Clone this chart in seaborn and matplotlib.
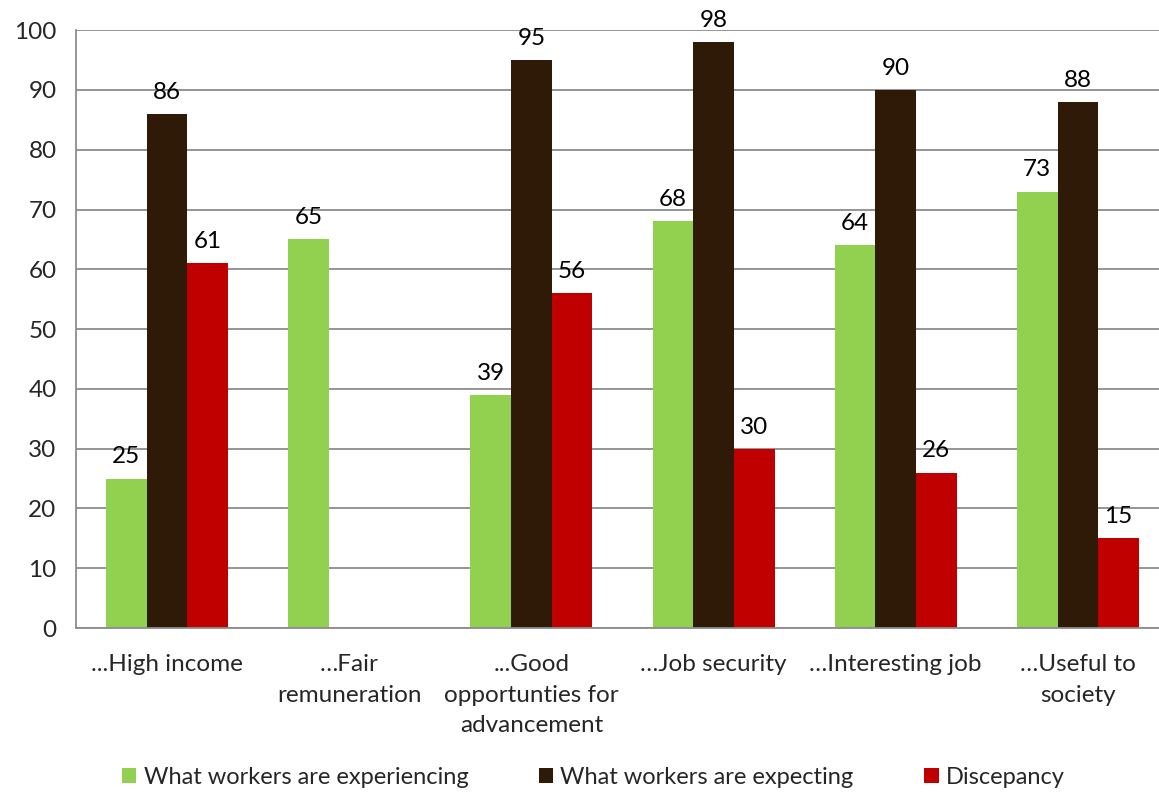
import numpy as np
import pandas as pd
import matplotlib
matplotlib.use("Agg")
import matplotlib.pyplot as plt
import seaborn as sns
from matplotlib.patches import Patch

categories = ["...High income", "\u2026Fair\nremuneration", "...Good\nopportunties for\nadvancement",
              "\u2026Job security", "\u2026Interesting job", "\u2026Useful to\nsociety"]
experiencing = [25, 65, 39, 68, 64, 73]
expecting = [86, np.nan, 95, 98, 90, 88]
discrepancy = [61, np.nan, 56, 30, 26, 15]
series_names = ["What workers are experiencing", "What workers are expecting", "Discepancy"]
colors = ["#92D050", "#2E1A07", "#C00000"]

rows = []
for name, vals in zip(series_names, [experiencing, expecting, discrepancy]):
    for cat, v in zip(categories, vals):
        rows.append({"category": cat, "series": name, "value": v})
df = pd.DataFrame(rows)

sns.set_style("white")
plt.rcParams["font.family"] = ["Lato", "DejaVu Sans"]
FS = 17.5

fig = plt.figure(figsize=(11.59, 7.94), dpi=100)
ax = fig.add_axes([0.0656, 0.209, 0.943, 0.753])

sns.barplot(data=df.dropna(), x="category", y="value", hue="series", order=categories,
            hue_order=series_names, palette=colors, width=0.67, gap=0, saturation=1,
            edgecolor="none", linewidth=0, ax=ax, legend=False, errorbar=None)

for cont in ax.containers:
    ax.bar_label(cont, fmt="%g", padding=8, fontsize=FS, color="#000000")

ax.set_ylim(0, 100)
ax.set_xlim(-0.5, len(categories) - 0.5)
ax.set_yticks(range(0, 101, 10))
ax.yaxis.grid(True, color="#8C8C8C", linewidth=1.3)
ax.set_axisbelow(True)
ax.set_xlabel("")
ax.set_ylabel("")

for s in ["top", "right"]:
    ax.spines[s].set_visible(False)
for s in ["left", "bottom"]:
    ax.spines[s].set_color("#8C8C8C")
    ax.spines[s].set_linewidth(1.3)

ax.set_xticks(range(len(categories)))
ax.set_xticklabels(categories, fontsize=FS, linespacing=1.55)
ax.tick_params(axis="x", which="major", length=0, pad=19)
ax.set_xticks(np.arange(-0.5, len(categories), 1.0), minor=True)
ax.tick_params(axis="x", which="minor", length=8, color="#8C8C8C", width=1.3, direction="out")
ax.tick_params(axis="y", length=8, color="#8C8C8C", width=1.3, direction="out", labelsize=FS, pad=6)

handles = [Patch(facecolor=c, edgecolor="none") for c in colors]
fig.legend(handles, series_names, loc="center", bbox_to_anchor=(0.512, 0.021), ncol=3,
           frameon=False, fontsize=17, handlelength=0.6, handleheight=0.6,
           handletextpad=0.3, columnspacing=3.0)

fig.savefig("out.png", dpi=100)
